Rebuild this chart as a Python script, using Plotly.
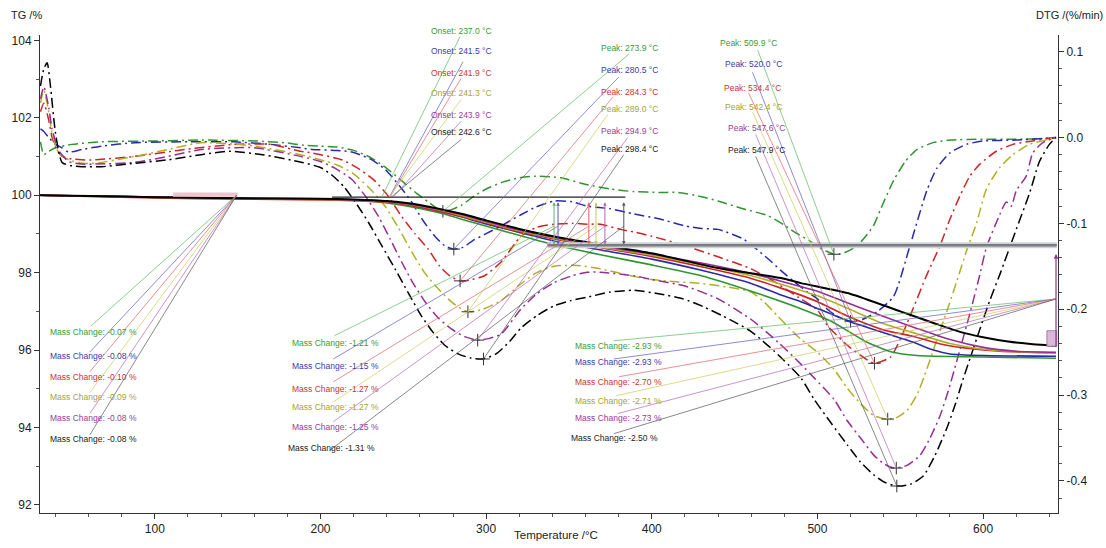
import plotly.graph_objects as go

# ---------------- data ----------------
samples = ["green", "blue", "red", "olive", "purple", "black"]
line_colors = {"green": "#2f962f", "blue": "#2a2aa8", "red": "#cc2525", "olive": "#b0b028",
               "purple": "#962e96", "black": "#000000"}
text_colors = {"green": "#3a9a3a", "blue": "#3c3ca8", "red": "#cc3333", "olive": "#a5a535",
               "purple": "#993b99", "black": "#222222"}
lead_colors = {"green": "#5cb85c", "blue": "#5a5abf", "red": "#e06060", "olive": "#caca5a",
               "purple": "#b565b5", "black": "#555555"}

# DTG curves (temperature / degC, DTG / %/min)
dtg_T_green = [31, 33, 36, 40, 50, 68, 100, 128, 160, 178, 190, 200, 210, 220, 230, 240, 250, 258, 265, 270, 274,
               279, 285, 293, 300, 310, 320, 330, 345, 361, 375, 389, 405, 416, 430, 440, 455, 470, 480, 486, 495,
               500, 505, 510, 515, 520, 525, 530, 534, 538, 546, 553, 560, 570, 580, 600, 620, 640, 644]
dtg_green = [-0.005, -0.020, -0.016, -0.012, -0.008, -0.005, -0.004, -0.003, -0.004, -0.006, -0.009, -0.010,
             -0.011, -0.015, -0.023, -0.036, -0.052, -0.065, -0.075, -0.082, -0.086, -0.084, -0.079, -0.068,
             -0.060, -0.052, -0.047, -0.045, -0.047, -0.055, -0.060, -0.063, -0.064, -0.064, -0.069, -0.074,
             -0.083, -0.091, -0.102, -0.110, -0.120, -0.127, -0.132, -0.136, -0.135, -0.131, -0.124, -0.113,
             -0.102, -0.084, -0.050, -0.028, -0.014, -0.006, -0.003, -0.002, -0.002, -0.001, 0.0]

dtg_T_blue = [31, 33, 36, 40, 44, 48, 56, 68, 88, 120, 148, 170, 188, 195, 210, 219, 230, 239, 248, 255, 262, 269,
              275, 280, 286, 292, 300, 309, 321, 330, 341, 352, 361, 375, 389, 405, 420, 430, 440, 455, 462, 470,
              478, 486, 494, 500, 506, 510, 515, 520, 527, 536, 546, 556, 566, 572, 580, 590, 600, 620, 644]
dtg_blue = [0.010, 0.007, 0.000, -0.008, -0.012, -0.017, -0.014, -0.010, -0.006, -0.005, -0.005, -0.008, -0.012,
            -0.014, -0.015, -0.017, -0.025, -0.037, -0.057, -0.075, -0.097, -0.115, -0.126, -0.130, -0.128,
            -0.120, -0.112, -0.103, -0.090, -0.081, -0.074, -0.075, -0.080, -0.083, -0.089, -0.095, -0.103,
            -0.106, -0.107, -0.118, -0.128, -0.141, -0.155, -0.168, -0.180, -0.188, -0.200, -0.206, -0.211,
            -0.214, -0.212, -0.203, -0.185, -0.125, -0.062, -0.036, -0.018, -0.008, -0.004, -0.003, 0.0]

dtg_T_red = [31, 33, 36, 38, 41, 44, 50, 56, 64, 88, 118, 148, 170, 188, 195, 213, 222, 232, 240, 249, 257, 265,
             272, 278, 284, 290, 299, 309, 321, 330, 341, 352, 361, 369, 381, 389, 400, 420, 440, 460, 474, 490,
             500, 506, 518, 527, 534, 544, 550, 558, 566, 574, 580, 586, 592, 598, 608, 618, 630, 640, 644]
dtg_red = [0.030, 0.040, 0.020, 0.000, -0.015, -0.022, -0.025, -0.026, -0.026, -0.022, -0.014, -0.008, -0.008,
           -0.016, -0.018, -0.026, -0.035, -0.049, -0.066, -0.092, -0.112, -0.130, -0.150, -0.161, -0.167,
           -0.166, -0.161, -0.145, -0.115, -0.105, -0.101, -0.100, -0.101, -0.101, -0.107, -0.110, -0.115,
           -0.126, -0.139, -0.153, -0.168, -0.188, -0.201, -0.219, -0.242, -0.255, -0.263, -0.256, -0.235,
           -0.198, -0.160, -0.126, -0.095, -0.068, -0.045, -0.031, -0.016, -0.008, -0.004, -0.001, 0.0]

dtg_T_olive = [31, 33, 36, 38, 42, 48, 56, 64, 88, 108, 128, 160, 188, 200, 210, 219, 229, 239, 247, 255, 263,
               271, 280, 289, 298, 309, 320, 330, 341, 355, 369, 385, 398, 415, 430, 445, 460, 468, 476, 483,
               490, 500, 510, 518, 526, 534, 542, 548, 554, 560, 566, 572, 578, 584, 590, 596, 602, 610, 618,
               628, 640, 644]
dtg_olive = [0.040, 0.055, 0.030, 0.005, -0.018, -0.026, -0.030, -0.030, -0.022, -0.014, -0.006, -0.010, -0.020,
             -0.026, -0.032, -0.041, -0.058, -0.080, -0.105, -0.133, -0.158, -0.176, -0.193, -0.203, -0.200,
             -0.190, -0.172, -0.158, -0.150, -0.149, -0.153, -0.160, -0.165, -0.168, -0.170, -0.174, -0.180,
             -0.192, -0.208, -0.222, -0.235, -0.250, -0.270, -0.292, -0.310, -0.324, -0.328, -0.326, -0.318,
             -0.300, -0.270, -0.236, -0.203, -0.168, -0.132, -0.100, -0.060, -0.035, -0.020, -0.008, -0.002, 0.0]

dtg_T_purple = [31, 33, 36, 38, 42, 48, 56, 64, 88, 108, 128, 160, 188, 200, 209, 219, 227, 235, 242, 249, 256,
                263, 271, 279, 287, 295, 302, 309, 321, 330, 341, 352, 361, 369, 389, 399, 420, 440, 460, 476,
                490, 498, 510, 518, 526, 534, 540, 546, 554, 562, 568, 574, 579, 584, 592, 598, 602, 610, 614,
                617, 620, 626, 630, 636, 644]
dtg_purple = [0.045, 0.059, 0.035, 0.010, -0.015, -0.028, -0.031, -0.031, -0.029, -0.022, -0.014, -0.012, -0.022,
              -0.028, -0.036, -0.049, -0.068, -0.092, -0.118, -0.145, -0.170, -0.191, -0.210, -0.223, -0.232,
              -0.236, -0.234, -0.229, -0.200, -0.183, -0.169, -0.161, -0.157, -0.157, -0.161, -0.165, -0.173,
              -0.188, -0.212, -0.238, -0.264, -0.280, -0.305, -0.330, -0.350, -0.370, -0.380, -0.385, -0.382,
              -0.370, -0.350, -0.324, -0.295, -0.261, -0.205, -0.160, -0.128, -0.090, -0.075, -0.080, -0.062,
              -0.045, -0.018, -0.006, 0.0]

dtg_T_black = [31, 33, 35, 37, 40, 44, 50, 56, 68, 88, 108, 128, 145, 165, 189, 200, 207, 214, 222, 229, 237, 245,
               253, 261, 268, 275, 283, 291, 298, 306, 314, 321, 331, 341, 351, 361, 375, 389, 404, 419, 431, 443,
               452, 460, 467, 474, 480, 490, 498, 508, 518, 526, 534, 541, 548, 556, 564, 571, 578, 583, 588, 596,
               604, 610, 620, 628, 634, 640, 644]
dtg_black = [0.060, 0.080, 0.087, 0.060, 0.006, -0.029, -0.033, -0.034, -0.034, -0.030, -0.026, -0.020, -0.016,
             -0.020, -0.029, -0.035, -0.044, -0.057, -0.078, -0.099, -0.126, -0.153, -0.181, -0.208, -0.227,
             -0.242, -0.252, -0.257, -0.258, -0.252, -0.238, -0.222, -0.207, -0.196, -0.190, -0.186, -0.180,
             -0.178, -0.182, -0.188, -0.197, -0.208, -0.217, -0.226, -0.237, -0.249, -0.260, -0.280, -0.305,
             -0.332, -0.358, -0.378, -0.393, -0.402, -0.406, -0.404, -0.394, -0.370, -0.339, -0.312, -0.281,
             -0.235, -0.190, -0.160, -0.107, -0.065, -0.028, -0.008, 0.0]

# TG curves (temperature / degC, TG / %)
tg_T_green = [30.7, 60, 100, 150, 200, 220, 240, 260, 274, 290, 310, 341, 369, 400, 430, 460, 490, 508, 520, 530,
              545, 560, 600, 644]
tg_green = [100.0, 99.98, 99.95, 99.93, 99.91, 99.88, 99.8, 99.66, 99.52, 99.32, 99.08, 98.72, 98.46, 98.2, 97.92,
            97.52, 97.07, 96.75, 96.45, 96.2, 95.95, 95.86, 95.82, 95.79]
tg_T_blue = [30.7, 60, 100, 150, 200, 220, 240, 260, 280, 300, 320, 343, 370, 400, 430, 460, 478, 490, 518, 540,
             558, 570, 580, 600, 644]
tg_blue = [100.0, 99.98, 99.95, 99.92, 99.9, 99.88, 99.83, 99.7, 99.5, 99.26, 99.04, 98.8, 98.58, 98.35, 98.06,
           97.72, 97.42, 97.25, 96.76, 96.45, 96.2, 96.0, 95.9, 95.86, 95.84]
tg_T_red = [30.7, 60, 100, 150, 200, 220, 240, 260, 285, 300, 320, 345, 370, 400, 430, 460, 478, 500, 518, 540,
            558, 575, 590, 610, 644]
tg_red = [100.0, 99.97, 99.93, 99.9, 99.88, 99.86, 99.82, 99.7, 99.45, 99.28, 99.06, 98.84, 98.64, 98.42, 98.15,
          97.85, 97.6, 97.25, 96.88, 96.52, 96.35, 96.15, 96.05, 95.97, 95.93]
tg_T_olive = [30.7, 60, 100, 150, 200, 220, 240, 260, 285, 300, 320, 345, 370, 400, 430, 460, 478, 500, 518, 540,
              560, 580, 600, 620, 644]
tg_olive = [100.0, 99.98, 99.94, 99.91, 99.89, 99.87, 99.83, 99.72, 99.48, 99.3, 99.08, 98.86, 98.66, 98.45, 98.2,
            97.92, 97.7, 97.4, 97.08, 96.68, 96.42, 96.17, 96.02, 95.96, 95.93]
tg_T_purple = [30.7, 60, 100, 150, 200, 220, 240, 260, 285, 300, 320, 345, 370, 400, 430, 460, 478, 500, 518, 540,
               560, 580, 600, 620, 644]
tg_purple = [100.0, 99.98, 99.95, 99.92, 99.9, 99.88, 99.84, 99.73, 99.5, 99.32, 99.1, 98.88, 98.68, 98.48, 98.25,
             97.98, 97.78, 97.52, 97.22, 96.87, 96.56, 96.27, 96.07, 95.97, 95.94]
tg_T_black = [30.7, 60, 100, 150, 200, 220, 240, 260, 285, 300, 320, 345, 370, 400, 440, 478, 490, 520, 550, 570,
              586, 600, 615, 630, 644]
tg_black = [100.0, 99.98, 99.95, 99.92, 99.91, 99.89, 99.85, 99.75, 99.52, 99.35, 99.13, 98.9, 98.72, 98.5, 98.12,
            97.86, 97.73, 97.45, 97.0, 96.7, 96.47, 96.33, 96.22, 96.15, 96.11]

# evaluation results
onset_T = [237.0, 241.5, 241.9, 241.3, 243.9, 242.6]
peak1_T = [273.9, 280.5, 284.3, 289.0, 294.9, 298.4]
peak1_v = [-0.086, -0.130, -0.167, -0.203, -0.236, -0.258]
peak2_T = [509.9, 520.0, 534.4, 542.4, 547.6, 547.9]
peak2_v = [-0.136, -0.214, -0.263, -0.328, -0.385, -0.406]
mass1 = ["-0.07", "-0.08", "-0.10", "-0.09", "-0.08", "-0.08"]
mass2 = ["-1.21", "-1.15", "-1.27", "-1.27", "-1.25", "-1.31"]
mass3 = ["-2.93", "-2.93", "-2.70", "-2.71", "-2.73", "-2.50"]
step2_T = [341.0, 343.4, 362.0, 366.3, 371.7, 383.1]

x_ticks = [100, 200, 300, 400, 500, 600]
tg_ticks = [92, 94, 96, 98, 100, 102, 104]
dtg_ticks = [-0.4, -0.3, -0.2, -0.1, 0.0, 0.1]
dtg_ticktext = ["-0.4", "-0.3", "-0.2", "-0.1", "0.0", "0.1"]

dtg_T = [dtg_T_green, dtg_T_blue, dtg_T_red, dtg_T_olive, dtg_T_purple, dtg_T_black]
dtg_v = [dtg_green, dtg_blue, dtg_red, dtg_olive, dtg_purple, dtg_black]
tg_T = [tg_T_green, tg_T_blue, tg_T_red, tg_T_olive, tg_T_purple, tg_T_black]
tg_v = [tg_green, tg_blue, tg_red, tg_olive, tg_purple, tg_black]

FONT = "Liberation Sans, Arial, sans-serif"
fig = go.Figure()

# DTG (main y axis, right side) dash-dot
for s, T, v in zip(samples, dtg_T, dtg_v):
    fig.add_trace(go.Scatter(x=T, y=v, yaxis="y", mode="lines",
                             line=dict(color=line_colors[s], width=1.5, dash="10px,4px,2px,4px",
                                       shape="spline", smoothing=0.6),
                             showlegend=False, hoverinfo="skip"))
# peak markers
fig.add_trace(go.Scatter(x=peak1_T + peak2_T, y=peak1_v + peak2_v, yaxis="y", mode="markers",
                         marker=dict(symbol="cross-thin", size=9, line=dict(color="#333333", width=1)),
                         showlegend=False, hoverinfo="skip"))

# TG (overlaying axis, left side) solid
for s, T, v in zip(samples, tg_T, tg_v):
    fig.add_trace(go.Scatter(x=T, y=v, yaxis="y2", mode="lines",
                             line=dict(color=line_colors[s], width=2.0 if s == "black" else 1.6,
                                       shape="spline", smoothing=0.6),
                             showlegend=False, hoverinfo="skip"))

shapes = []
annotations = []

def seg(x0, y0, x1, y1, color, width=0.7, yref="y2"):
    shapes.append(dict(type="line", xref="x", yref=yref, x0=x0, y0=y0, x1=x1, y1=y1,
                       line=dict(color=color, width=width)))

# auxiliary evaluation lines
shapes.append(dict(type="rect", xref="x", yref="y2", x0=111, x1=150, y0=99.96, y1=100.07,
                   fillcolor="#f0c4cc", line=dict(width=0), layer="above"))
seg(207, 99.95, 384, 99.95, "#222222", 1.2)
seg(337, 98.71, 644.5, 98.71, "#c9d2da", 6)
seg(337, 98.71, 644.5, 98.71, "#7c7c7c", 2.5)
shapes.append(dict(type="rect", xref="x", yref="y2", x0=638.5, x1=644.5, y0=96.1, y1=96.5,
                   fillcolor="#d9b8d9", line=dict(color="#9a6a9a", width=0.8)))

# leader lines
onset_start = [(284.3, 104.10), (286.1, 103.45), (284.9, 103.02), (284.9, 102.47), (284.9, 101.91), (284.9, 101.44)]
peak1_start = [(386.1, 0.097), (380.1, 0.0705), (376.5, 0.047), (373.5, 0.027), (385.5, 0.0), (383.1, -0.020)]
peak2_start = [(463.9, 0.102), (460.8, 0.076), (458.4, 0.052), (460.8, 0.030), (462.7, 0.0035), (462.7, -0.022)]
mass1_start = [(61.4, 96.62), (60.8, 95.95), (60.8, 95.44), (60.8, 94.90), (60.8, 94.36), (60.8, 93.81)]
mass2_start = [(208.4, 96.37), (207.8, 95.77), (207.8, 95.18), (207.8, 94.66), (207.8, 94.15), (205.4, 93.40)]
mass3_start = [(377.1, 96.24), (377.1, 95.77), (380.1, 95.31), (378.3, 94.82), (379.5, 94.36), (377.1, 93.84)]
for i, s in enumerate(samples):
    c = lead_colors[s]
    seg(onset_start[i][0], onset_start[i][1], onset_T[i], 99.95, c)
    seg(peak1_start[i][0], peak1_start[i][1], peak1_T[i], peak1_v[i], c, yref="y")
    seg(peak2_start[i][0], peak2_start[i][1], peak2_T[i], peak2_v[i], c, yref="y")
    seg(mass1_start[i][0], mass1_start[i][1], 149.4, 100.0, c)
    seg(mass2_start[i][0], mass2_start[i][1], step2_T[i], 99.2, c)
    seg(mass3_start[i][0], mass3_start[i][1], 644.0, 97.32, c)
    # step arrows
    annotations.append(dict(x=step2_T[i], y=99.82, ax=step2_T[i], ay=98.69, xref="x", yref="y2",
                            axref="x", ayref="y2", text="", showarrow=True, arrowhead=2,
                            arrowside="end+start", arrowsize=0.7, arrowwidth=1,
                            arrowcolor=lead_colors[s]))
annotations.append(dict(x=644.0, y=98.48, ax=644.0, ay=96.04, xref="x", yref="y2", axref="x", ayref="y2",
                        text="", showarrow=True, arrowhead=2, arrowsize=0.8, arrowwidth=1.2,
                        arrowcolor="#8a3a8a"))

# labels (paper coordinates)
onset_y = [1.008, 0.967, 0.921, 0.879, 0.833, 0.798]
peak1_y = [0.973, 0.927, 0.881, 0.846, 0.800, 0.7625]
peak2_x = [0.666, 0.671, 0.670, 0.671, 0.674, 0.674]
peak2_y = [0.983, 0.940, 0.890, 0.850, 0.806, 0.760]
mass1_y = [0.379, 0.329, 0.285, 0.242, 0.198, 0.154]
mass2_y = [0.356, 0.308, 0.260, 0.221, 0.179, 0.135]
mass3_y = [0.350, 0.315, 0.275, 0.235, 0.198, 0.156]

def label(xp, yp, text, color):
    annotations.append(dict(x=xp, y=yp, xref="paper", yref="paper", text=text, showarrow=False,
                            xanchor="left", yanchor="middle",
                            font=dict(family=FONT, size=8.5, color=color)))

for i, s in enumerate(samples):
    c = text_colors[s]
    label(0.382, onset_y[i], f"Onset: {onset_T[i]:.1f} °C", c)
    label(0.549, peak1_y[i], f"Peak: {peak1_T[i]:.1f} °C", c)
    label(peak2_x[i], peak2_y[i], f"Peak: {peak2_T[i]:.1f} °C", c)
    label(0.0078, mass1_y[i], f"Mass Change: {mass1[i]} %", c)
    label(0.242 if s == "black" else 0.246, mass2_y[i], f"Mass Change: {mass2[i]} %", c)
    label(0.520 if s == "black" else 0.5235, mass3_y[i], f"Mass Change: {mass3[i]} %", c)

# axis titles
annotations.append(dict(x=-0.030, y=1.042, xref="paper", yref="paper", text="TG /%", showarrow=False,
                        xanchor="left", yanchor="middle", font=dict(family=FONT, size=11, color="#222")))
annotations.append(dict(x=1.046, y=1.042, xref="paper", yref="paper", text="DTG /(%/min)", showarrow=False,
                        xanchor="right", yanchor="middle", font=dict(family=FONT, size=11, color="#222")))
annotations.append(dict(x=0.507, y=-0.046, xref="paper", yref="paper", text="Temperature /°C", showarrow=False,
                        xanchor="center", yanchor="middle", font=dict(family=FONT, size=11.5, color="#222")))

axis_common = dict(showgrid=False, zeroline=False, showline=True, linecolor="#333333", linewidth=1,
                   ticks="outside", tickcolor="#333333", tickfont=dict(family=FONT, size=12, color="#222"))

fig.update_layout(
    width=1106, height=548,
    margin=dict(l=38, r=48, t=35, b=33),
    paper_bgcolor="white", plot_bgcolor="white",
    shapes=shapes, annotations=annotations,
    xaxis=dict(range=[30.7, 645.2], tickvals=x_ticks, ticklen=5,
               minor=dict(dtick=20, tick0=0, ticks="outside", ticklen=3, tickcolor="#555"), **axis_common),
    yaxis=dict(range=[-0.4374, 0.1194], side="right", tickvals=dtg_ticks, ticktext=dtg_ticktext, ticklen=5,
               minor=dict(dtick=0.02, tick0=0, ticks="outside", ticklen=3, tickcolor="#555"), **axis_common),
    yaxis2=dict(range=[91.79, 104.14], side="left", overlaying="y", tickvals=tg_ticks, ticklen=5,
                minor=dict(dtick=1, tick0=0, ticks="outside", ticklen=3, tickcolor="#555"), **axis_common),
)

fig.write_html("out.html")
